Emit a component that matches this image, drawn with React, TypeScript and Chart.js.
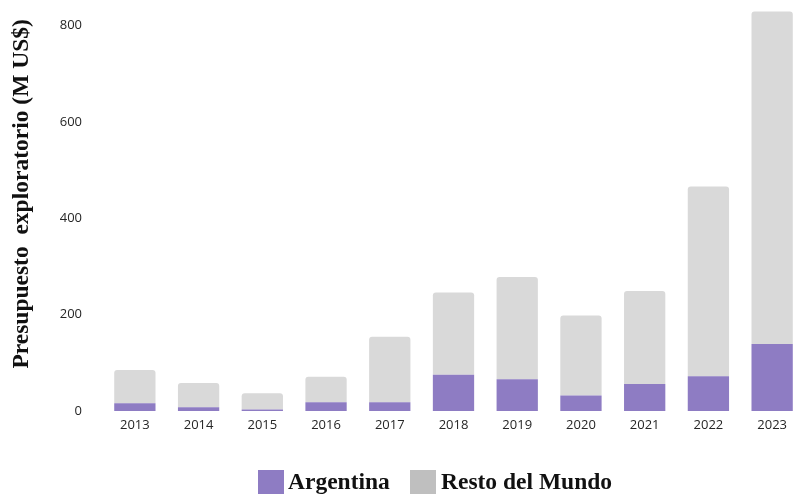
import React, { useEffect, useRef } from "react";
import { Chart, registerables } from "chart.js";

Chart.register(...registerables);

const years = ["2013", "2014", "2015", "2016", "2017", "2018", "2019", "2020", "2021", "2022", "2023"];
const argentina = [16, 8, 3, 18, 18, 75, 66, 32, 56, 72, 139];
const restoDelMundo = [69, 50, 34, 53, 136, 171, 212, 166, 193, 394, 690];
const yTicks = [0, 200, 400, 600, 800];
const yTitle = "Presupuesto  exploratorio (M US$)";
const legendItems = ["Argentina", "Resto del Mundo"];

const PURPLE = "#8e7cc3";
const GREY_BAR = "#d9d9d9";
const GREY_LEGEND = "#bfbfbf";
const SERIF = "'Liberation Serif', 'Times New Roman', serif";
const TICK_COLOR = "#262626";

export default function App() {
  const ref = useRef<HTMLCanvasElement | null>(null);

  useEffect(() => {
    document.body.style.overflow = "hidden";
    const canvas = ref.current;
    if (!canvas) return;
    const chart = new Chart(canvas, {
      type: "bar",
      data: {
        labels: years,
        datasets: [
          {
            label: legendItems[0],
            data: argentina,
            backgroundColor: PURPLE,
            borderWidth: 0,
          },
          {
            label: legendItems[1],
            data: restoDelMundo,
            backgroundColor: GREY_BAR,
            borderWidth: 0,
            borderRadius: { topLeft: 3, topRight: 3, bottomLeft: 0, bottomRight: 0 },
            borderSkipped: false,
          },
        ],
      },
      options: {
        responsive: false,
        animation: false,
        layout: { padding: 0, autoPadding: false },
        datasets: { bar: { barPercentage: 0.648, categoryPercentage: 1 } },
        plugins: { legend: { display: false }, tooltip: { enabled: false } },
        scales: {
          x: {
            stacked: true,
            grid: { display: false, drawTicks: false },
            border: { display: false },
            ticks: {
              padding: 6,
              color: TICK_COLOR,
              font: { family: "'Open Sans', sans-serif", size: 13 },
            },
            afterFit: (scale: any) => {
              scale.height = 83;
            },
          },
          y: {
            stacked: true,
            min: 0,
            max: 901,
            grid: { display: false, drawTicks: false },
            border: { display: false },
            ticks: {
              stepSize: 200,
              padding: 21,
              color: TICK_COLOR,
              font: { family: "'Open Sans', sans-serif", size: 13 },
            },
            afterBuildTicks: (axis: any) => {
              axis.ticks = yTicks.map((v) => ({ value: v }));
            },
            afterFit: (scale: any) => {
              scale.width = 103;
            },
            title: {
              display: true,
              text: yTitle,
              color: "#111",
              padding: { top: 8, bottom: 0 },
              font: { family: SERIF, size: 23.5, weight: "bold" },
            },
          },
        },
      },
    });
    return () => chart.destroy();
  }, []);

  const legendText: React.CSSProperties = {
    position: "absolute",
    top: 470,
    fontFamily: SERIF,
    fontWeight: "bold",
    fontSize: "23.5px",
    lineHeight: 1,
    color: "#111",
    whiteSpace: "nowrap",
  };

  return (
    <div style={{ position: "fixed", left: 0, top: 0, width: 794, height: 494, overflow: "hidden" }}>
      <canvas
        ref={ref}
        width={804}
        height={546}
        style={{ position: "absolute", left: 0, top: -52, display: "block" }}
      />
      <div style={{ position: "absolute", left: 258, top: 470, width: 26, height: 24, background: PURPLE }} />
      <span style={{ ...legendText, left: 288 }}>{legendItems[0]}</span>
      <div style={{ position: "absolute", left: 410, top: 470, width: 26, height: 24, background: GREY_LEGEND }} />
      <span style={{ ...legendText, left: 441 }}>{legendItems[1]}</span>
    </div>
  );
}
